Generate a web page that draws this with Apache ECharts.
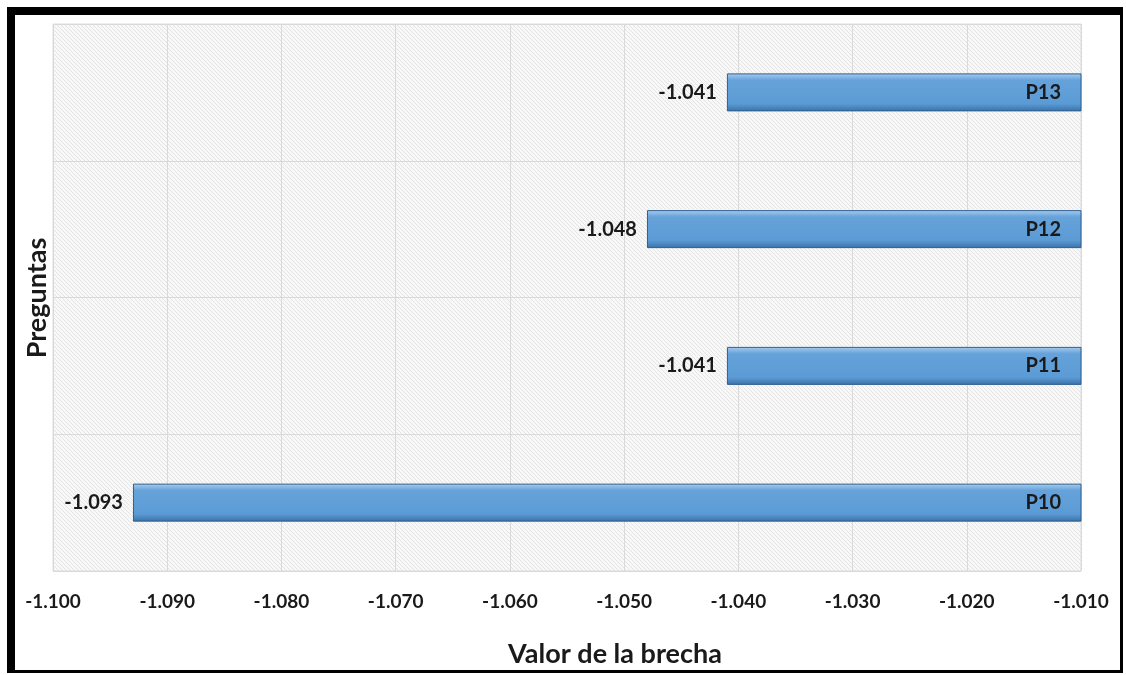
<!DOCTYPE html>
<html>
<head>
<meta charset="utf-8">
<title>Valor de la brecha por pregunta</title>
<script src="https://cdn.jsdelivr.net/npm/echarts@6/dist/echarts.min.js"></script>
<style>
  html, body { margin: 0; padding: 0; background: #ffffff; }
  #chart { width: 1126px; height: 675px; }
</style>
</head>
<body>
<div id="chart"></div>
<script>
// Questions, bottom to top
const preguntas = ['P10', 'P11', 'P12', 'P13'];
// Gap value for each question
const brechas = [-1.093, -1.041, -1.048, -1.041];
// Value axis range and step
const ejeMin = -1.100;
const ejeMax = -1.010;
const ejePaso = 0.010;

const FONT = 'Lato, "Open Sans", "DejaVu Sans", sans-serif';
const TEXT = '#1a1a1a';

// Fine diagonal hatching for the plot background
function hatch() {
  const c = document.createElement('canvas');
  c.width = 4; c.height = 4;
  const g = c.getContext('2d');
  g.fillStyle = '#f8f8f8';
  g.fillRect(0, 0, 4, 4);
  g.strokeStyle = '#e4e4e4';
  g.lineWidth = 1;
  g.beginPath();
  g.moveTo(-1, -1); g.lineTo(5, 5);
  g.moveTo(-1, 3); g.lineTo(1, 5);
  g.moveTo(3, -1); g.lineTo(5, 1);
  g.stroke();
  return c;
}

const barFill = {
  type: 'linear', x: 0, y: 0, x2: 0, y2: 1,
  colorStops: [
    { offset: 0, color: '#a9cdef' },
    { offset: 0.18, color: '#66a2da' },
    { offset: 0.8, color: '#5b9bd5' },
    { offset: 1, color: '#3c70a6' }
  ]
};

const chart = echarts.init(document.getElementById('chart'), null, { renderer: 'canvas' });

chart.setOption({
  backgroundColor: '#ffffff',
  animation: false,
  grid: {
    left: 53, right: 45, top: 24, bottom: 104,
    show: true,
    backgroundColor: { image: hatch(), repeat: 'repeat' },
    borderColor: '#dcdcdc',
    borderWidth: 1
  },
  xAxis: {
    type: 'value',
    min: ejeMin, max: ejeMax, interval: ejePaso,
    axisLine: { show: false },
    axisTick: { show: false },
    splitLine: { show: true, lineStyle: { color: '#d9d9d9', width: 1 } },
    axisLabel: {
      margin: 21,
      fontFamily: FONT, fontWeight: 'bold', fontSize: 19, color: TEXT,
      formatter: v => v.toFixed(3)
    }
  },
  yAxis: {
    type: 'category',
    data: preguntas,
    axisLine: { show: false },
    axisTick: { show: false },
    axisLabel: { show: false },
    splitLine: { show: true, lineStyle: { color: '#d9d9d9', width: 1 } }
  },
  series: [
    {
      name: 'Brecha',
      type: 'bar',
      data: brechas,
      barWidth: 38,
      clip: true,
      itemStyle: { color: barFill, borderColor: '#2f5f8f', borderWidth: 1 },
      label: {
        show: true, position: 'left', distance: 10,
        fontFamily: FONT, fontWeight: 'bold', fontSize: 20, color: TEXT,
        formatter: p => p.value.toFixed(3)
      }
    },
    {
      name: 'Pregunta',
      type: 'bar',
      data: brechas,
      barWidth: 38,
      barGap: '-100%',
      clip: true,
      itemStyle: { color: 'rgba(0,0,0,0)' },
      label: {
        show: true, position: 'insideRight', distance: 20,
        fontFamily: FONT, fontWeight: 'bold', fontSize: 20, color: TEXT,
        formatter: p => p.name
      },
      silent: true
    }
  ],
  graphic: [
    // frame around the chart
    { type: 'rect', shape: { x: 7, y: 7, width: 8, height: 666 }, style: { fill: '#000' } },
    { type: 'rect', shape: { x: 7, y: 7, width: 1116, height: 8 }, style: { fill: '#000' } },
    { type: 'rect', shape: { x: 1120, y: 7, width: 3, height: 666 }, style: { fill: '#000' } },
    { type: 'rect', shape: { x: 7, y: 670, width: 1116, height: 3 }, style: { fill: '#000' } },
    // axis titles
    {
      type: 'text', x: 615, y: 654,
      style: {
        text: 'Valor de la brecha', fill: TEXT,
        font: 'bold 27px ' + FONT, textAlign: 'center', textVerticalAlign: 'middle'
      }
    },
    {
      type: 'text', x: 37, y: 298, rotation: Math.PI / 2,
      style: {
        text: 'Preguntas', fill: TEXT,
        font: 'bold 27px ' + FONT, textAlign: 'center', textVerticalAlign: 'middle'
      }
    }
  ]
});
</script>
</body>
</html>
